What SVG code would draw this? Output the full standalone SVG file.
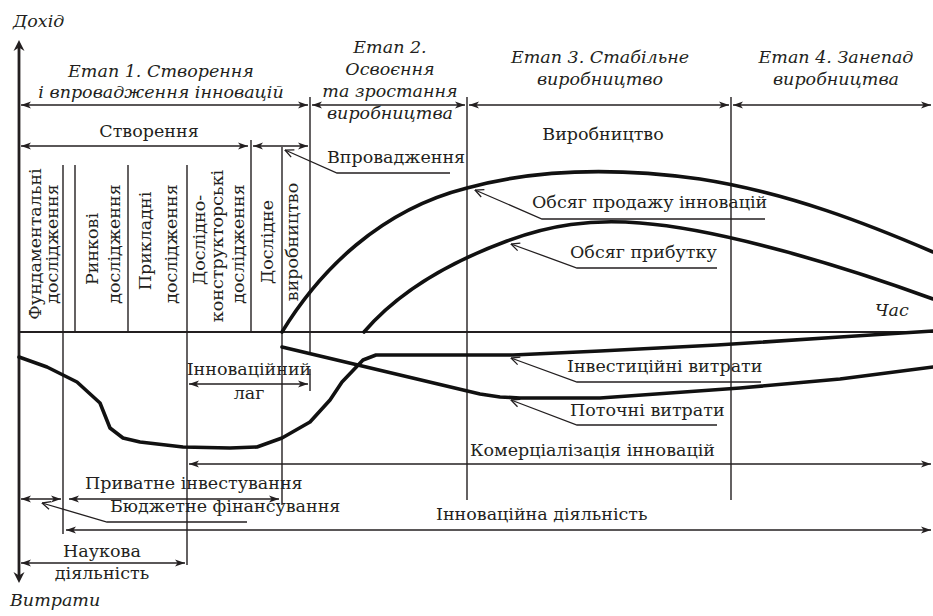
<svg xmlns="http://www.w3.org/2000/svg" width="933" height="616" viewBox="0 0 933 616" font-family="'DejaVu Serif', serif">
  <defs>
    <style>
      text { font-family: 'DejaVu Serif', serif; font-size: 17.5px; fill: #231f20; }
      .it { font-style: italic; }
      .mid { text-anchor: middle; }
      .thin { stroke: #231f20; stroke-width: 1.4; fill: none; }
      .dim { stroke: #231f20; stroke-width: 1.4; fill: none; marker-start: url(#ah); marker-end: url(#ah); }
      .lead { stroke: #231f20; stroke-width: 1.3; fill: none; marker-end: url(#open); }
      .curve { stroke: #111; stroke-width: 3.6; fill: none; stroke-linejoin: round; stroke-linecap: round; }
    </style>
    <!-- barbed head for dimension arrows -->
    <marker id="ah" viewBox="0 0 10 8" refX="10" refY="4" markerWidth="10" markerHeight="8" markerUnits="userSpaceOnUse" orient="auto-start-reverse">
      <path d="M0,0.6 L10,4 L0,7.4 L2.6,4 Z" fill="#231f20"/>
    </marker>
    <!-- open head for label leaders -->
    <marker id="open" viewBox="0 0 10 10" refX="9.5" refY="5" markerWidth="10" markerHeight="10" markerUnits="userSpaceOnUse" orient="auto">
      <path d="M1,1 L9.5,5 L1,9" fill="none" stroke="#231f20" stroke-width="1.3"/>
    </marker>
  </defs>

  <rect width="933" height="616" fill="#fff"/>

  <!-- axes -->
  <g id="axes">
    <line x1="19" y1="46" x2="19" y2="577" stroke="#231f20" stroke-width="2.8"/>
    <path d="M19,40 L13.5,51 L19,47.5 L24.5,51 Z" fill="#231f20"/>
    <path d="M19,583 L13.5,572 L19,575.5 L24.5,572 Z" fill="#231f20"/>
    <line x1="19" y1="332" x2="933" y2="332" stroke="#231f20" stroke-width="2"/>
    <text class="it" x="13" y="27">Дохід</text>
    <text class="it" x="10" y="606">Витрати</text>
    <text class="it" x="875" y="316">Час</text>
  </g>

  <!-- vertical boundaries of stages and works -->
  <g id="grid" class="thin">
    <line x1="63" y1="165" x2="63" y2="534"/>
    <line x1="75" y1="165" x2="75" y2="332"/>
    <line x1="128" y1="165" x2="128" y2="332"/>
    <line x1="187" y1="165" x2="187" y2="565"/>
    <line x1="251" y1="140" x2="251" y2="332"/>
    <line x1="282" y1="147" x2="282" y2="505"/>
    <line x1="310" y1="97" x2="310" y2="353"/>
    <line x1="310" y1="369" x2="310" y2="391"/>
    <line x1="467" y1="97" x2="467" y2="500"/>
    <line x1="731" y1="97" x2="731" y2="500"/>
  </g>

  <!-- dimension arrows -->
  <g id="connectors">
    <line class="dim" x1="21" y1="105" x2="308" y2="105"/>
    <line class="dim" x1="312" y1="105" x2="465" y2="105"/>
    <line class="dim" x1="469" y1="105" x2="729" y2="105"/>
    <line class="dim" x1="733" y1="105" x2="931" y2="105"/>
    <line class="dim" x1="21" y1="146" x2="248" y2="146"/>
    <line class="dim" x1="253" y1="146" x2="308" y2="146"/>
    <line class="dim" x1="189" y1="384" x2="308" y2="384"/>
    <line class="dim" x1="189" y1="464" x2="931" y2="464"/>
    <line class="dim" x1="21" y1="499" x2="61" y2="499"/>
    <line class="dim" x1="69" y1="499" x2="279" y2="499"/>
    <line class="dim" x1="66" y1="530" x2="931" y2="530"/>
    <line class="dim" x1="21" y1="563" x2="185" y2="563"/>

    <!-- leaders -->
    <path class="lead" d="M450,173 H337 L285,150"/>
    <path class="lead" d="M765,219 H542 L475,190"/>
    <path class="lead" d="M717,268 H577 L511,244"/>
    <path class="lead" d="M761,382 H577 L511,358"/>
    <path class="lead" d="M717,425 H577 L511,400"/>
    <path class="lead" d="M247,522 H107 L42,503"/>
  </g>

  <!-- curves -->
  <g id="curves">
    <path id="sales" class="curve" d="M282,332 C320,270 380,210 467,188 C540,168 620,168 700,179 C790,193 870,225 933,252"/>
    <path id="profit" class="curve" d="M364,332 C400,290 450,262 507,241 C550,225 590,219 640,223 C720,229 840,265 933,299"/>
    <polyline id="invest-costs" class="curve" points="19,357 47,367 77,382 100,403 110,428 123,438 140,442 183,447 230,448 257,447 282,438 310,422 330,400 342,382 363,360 376,355 513,355 600,351 717,345 840,337 933,331"/>
    <polyline id="current-costs" class="curve" points="282,347 480,394 500,397 520,398 600,398 740,388 840,379 933,367"/>
  </g>

  <!-- stage headings -->
  <g id="stage1">
    <text class="it mid" x="161" y="77">Етап 1. Створення</text>
    <text class="it mid" x="161" y="98">і впровадження інновацій</text>
  </g>
  <g id="stage2">
    <text class="it mid" x="390" y="53">Етап 2.</text>
    <text class="it mid" x="390" y="75">Освоєння</text>
    <text class="it mid" x="390" y="97">та зростання</text>
    <text class="it mid" x="390" y="119">виробництва</text>
  </g>
  <g id="stage3">
    <text class="it mid" x="600" y="63">Етап 3. Стабільне</text>
    <text class="it mid" x="600" y="85">виробництво</text>
  </g>
  <g id="stage4">
    <text class="it mid" x="836" y="63">Етап 4. Занепад</text>
    <text class="it mid" x="836" y="85">виробництва</text>
  </g>

  <g id="phases">
    <text class="mid" x="149" y="137">Створення</text>
    <text class="mid" x="603" y="140">Виробництво</text>
    <text x="327" y="163">Впровадження</text>
  </g>

  <!-- works of the creation stage, written upwards -->
  <g id="works">
    <text class="mid" transform="translate(41,244) rotate(-90)">Фундаментальні</text>
    <text class="mid" transform="translate(58,244) rotate(-90)">дослідження</text>
    <text class="mid" transform="translate(98,249) rotate(-90)">Ринкові</text>
    <text class="mid" transform="translate(120,244) rotate(-90)">дослідження</text>
    <text class="mid" transform="translate(151,241) rotate(-90)">Прикладні</text>
    <text class="mid" transform="translate(177,244) rotate(-90)">дослідження</text>
    <text class="mid" transform="translate(205,240) rotate(-90)">Дослідно-</text>
    <text class="mid" transform="translate(223,246) rotate(-90)">конструкторські</text>
    <text class="mid" transform="translate(244,244) rotate(-90)">дослідження</text>
    <text class="mid" transform="translate(273,242) rotate(-90)">Дослідне</text>
    <text class="mid" transform="translate(298,242) rotate(-90)">виробництво</text>
  </g>

  <g id="curve-labels">
    <text x="532" y="208">Обсяг продажу інновацій</text>
    <text x="570" y="258">Обсяг прибутку</text>
    <text x="567" y="372">Інвестиційні витрати</text>
    <text x="570" y="416">Поточні витрати</text>
  </g>

  <g id="lag">
    <text class="mid" x="249" y="375">Інноваційний</text>
    <text class="mid" x="249" y="399">лаг</text>
  </g>

  <g id="activities">
    <text x="470" y="456">Комерціалізація інновацій</text>
    <text x="85" y="489">Приватне інвестування</text>
    <text x="110" y="512">Бюджетне фінансування</text>
    <text x="436" y="520">Інноваційна діяльність</text>
    <text class="mid" x="102" y="557">Наукова</text>
    <text class="mid" x="102" y="579">діяльність</text>
  </g>
</svg>
